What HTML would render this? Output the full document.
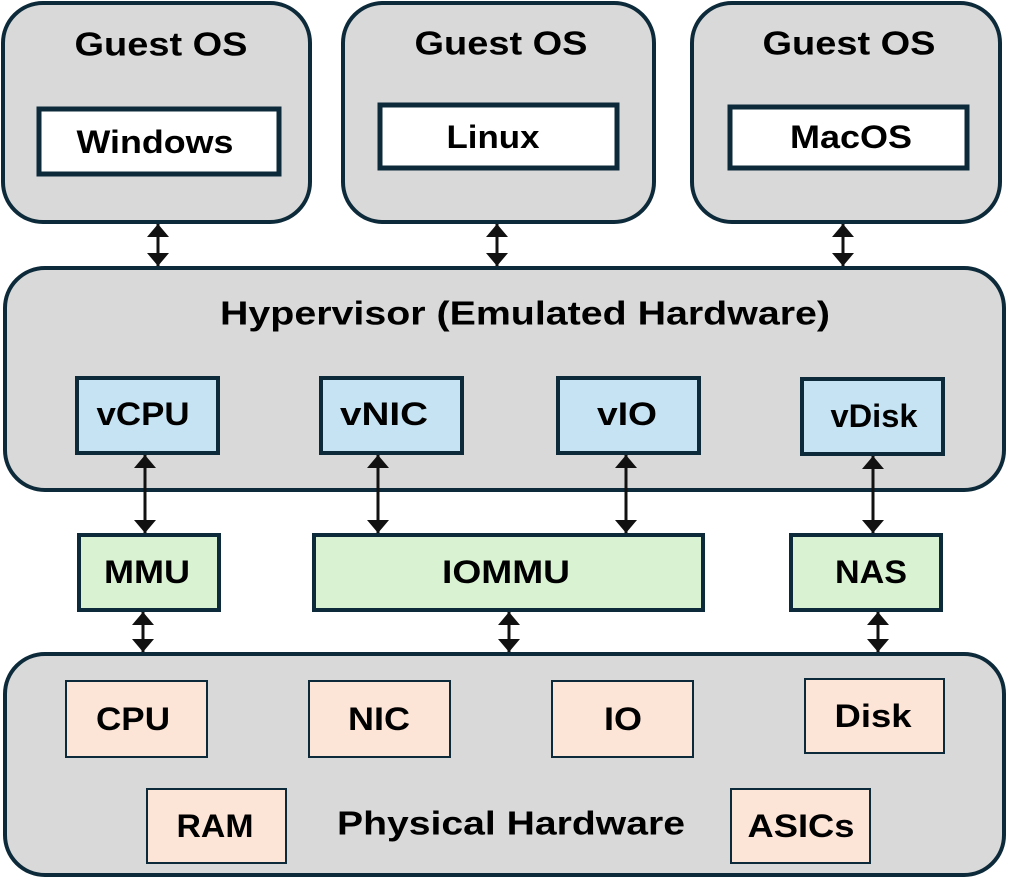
<!DOCTYPE html>
<html><head><meta charset="utf-8"><style>
html,body{margin:0;padding:0;background:#fff;width:1009px;height:879px;overflow:hidden}
text{font-family:"Liberation Sans",sans-serif;font-weight:bold;fill:#000;text-anchor:middle;dominant-baseline:central}
</style></head><body>
<svg width="1009" height="879" viewBox="0 0 1009 879" xmlns="http://www.w3.org/2000/svg">
<defs>
<marker id="a" viewBox="0 0 10 10" refX="10" refY="5" markerUnits="userSpaceOnUse" markerWidth="13" markerHeight="22" preserveAspectRatio="none" orient="auto-start-reverse"><path d="M0,0L10,5L0,10z" fill="#111"/></marker>
</defs>
<g stroke="#0d2a3a" stroke-width="4" fill="#d9d9d9">
<rect x="3" y="3" width="307" height="219" rx="40"/>
<rect x="343" y="3" width="311" height="219" rx="40"/>
<rect x="692" y="3" width="308" height="219" rx="40"/>
<rect x="5" y="268" width="999" height="222" rx="40"/>
<rect x="5" y="654" width="999" height="221" rx="40"/>
</g>
<g stroke="#0d2a3a" stroke-width="5" fill="#fff">
<rect x="39" y="109" width="240" height="65"/>
<rect x="380" y="105" width="237" height="63"/>
<rect x="730" y="107" width="237" height="61"/>
</g>
<g stroke="#0d2a3a" stroke-width="4" fill="#c5e3f3">
<rect x="77" y="378" width="141" height="75"/>
<rect x="321" y="378" width="141" height="75"/>
<rect x="558" y="378" width="141" height="75"/>
<rect x="802" y="379" width="141" height="75"/>
</g>
<g stroke="#0d2a3a" stroke-width="4" fill="#d8f2d2">
<rect x="79" y="535" width="140" height="75"/>
<rect x="314" y="535" width="389" height="75"/>
<rect x="791" y="535" width="150" height="75"/>
</g>
<g stroke="#0d2a3a" stroke-width="2" fill="#fce4d6">
<rect x="66" y="681" width="141" height="76"/>
<rect x="309" y="681" width="141" height="76"/>
<rect x="552" y="681" width="141" height="76"/>
<rect x="805" y="679" width="139" height="74"/>
<rect x="147" y="789" width="139" height="74"/>
<rect x="731" y="789" width="139" height="74"/>
</g>
<g stroke="#111" stroke-width="3" marker-start="url(#a)" marker-end="url(#a)">
<line x1="158" y1="224" x2="158" y2="266"/>
<line x1="497" y1="224" x2="497" y2="266"/>
<line x1="843" y1="224" x2="843" y2="266"/>
<line x1="145" y1="455" x2="145" y2="533"/>
<line x1="378" y1="455" x2="378" y2="533"/>
<line x1="626" y1="455" x2="626" y2="533"/>
<line x1="873" y1="456" x2="873" y2="533"/>
<line x1="143" y1="612" x2="143" y2="652"/>
<line x1="509" y1="612" x2="509" y2="652"/>
<line x1="878" y1="612" x2="878" y2="652"/>
</g>
<g font-size="33" lengthAdjust="spacingAndGlyphs">
<text x="161" y="44" textLength="173" lengthAdjust="spacingAndGlyphs">Guest OS</text>
<text x="501" y="43" textLength="173" lengthAdjust="spacingAndGlyphs">Guest OS</text>
<text x="849" y="43" textLength="173" lengthAdjust="spacingAndGlyphs">Guest OS</text>
<text x="525" y="313" textLength="610" lengthAdjust="spacingAndGlyphs">Hypervisor (Emulated Hardware)</text>
<text x="511" y="823" textLength="348" lengthAdjust="spacingAndGlyphs">Physical Hardware</text>
</g>
<g font-size="32">
<text x="155" y="142" textLength="157" lengthAdjust="spacingAndGlyphs">Windows</text>
<text x="493" y="137" textLength="93" lengthAdjust="spacingAndGlyphs">Linux</text>
<text x="851" y="137" textLength="122" lengthAdjust="spacingAndGlyphs">MacOS</text>
<text x="143" y="414" textLength="93" lengthAdjust="spacingAndGlyphs">vCPU</text>
<text x="384" y="414" textLength="88" lengthAdjust="spacingAndGlyphs">vNIC</text>
<text x="627" y="414" textLength="60" lengthAdjust="spacingAndGlyphs">vIO</text>
<text x="874" y="416" textLength="87" lengthAdjust="spacingAndGlyphs">vDisk</text>
<text x="147" y="572" textLength="86" lengthAdjust="spacingAndGlyphs">MMU</text>
<text x="506" y="572" textLength="128" lengthAdjust="spacingAndGlyphs">IOMMU</text>
<text x="871" y="572" textLength="72" lengthAdjust="spacingAndGlyphs">NAS</text>
<text x="133" y="719" textLength="74" lengthAdjust="spacingAndGlyphs">CPU</text>
<text x="379" y="719" textLength="62" lengthAdjust="spacingAndGlyphs">NIC</text>
<text x="623" y="719" textLength="38" lengthAdjust="spacingAndGlyphs">IO</text>
<text x="873" y="716" textLength="77" lengthAdjust="spacingAndGlyphs">Disk</text>
<text x="215" y="826" textLength="77" lengthAdjust="spacingAndGlyphs">RAM</text>
<text x="801" y="826" textLength="107" lengthAdjust="spacingAndGlyphs">ASICs</text>
</g>
</svg>
</body></html>
